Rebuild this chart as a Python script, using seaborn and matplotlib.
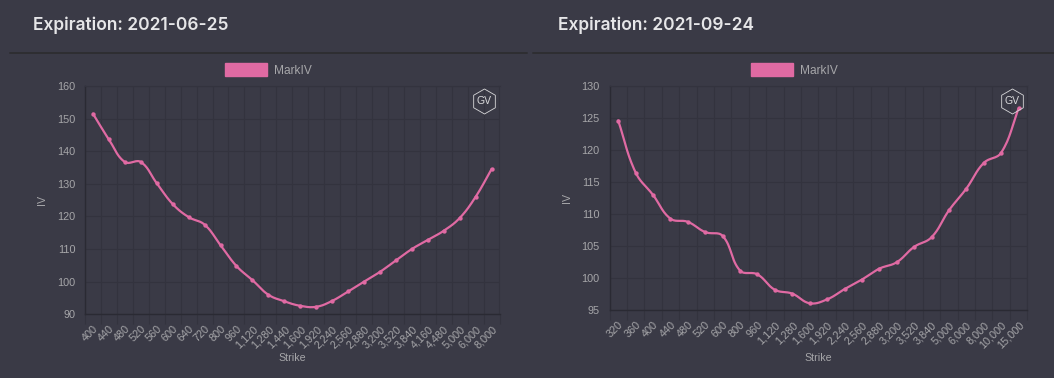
import numpy as np
import seaborn as sns
import matplotlib
matplotlib.use('Agg')
import matplotlib.pyplot as plt
from matplotlib.lines import Line2D
from matplotlib.patches import Patch

# data
strikes_jun = ['400', '440', '480', '520', '560', '600', '640', '720', '800', '960', '1,120', '1,280', '1,440',
               '1,600', '1,920', '2,240', '2,560', '2,880', '3,200', '3,520', '3,840', '4,160', '4,480',
               '5,000', '6,000', '8,000']
iv_jun = [151.5, 143.6, 136.7, 136.7, 130.2, 123.8, 119.8, 117.5, 111.2, 104.8, 100.5, 96.0, 94.0,
          92.6, 92.3, 94.1, 97.0, 100.0, 103.0, 106.5, 110.0, 112.8, 115.6, 119.5, 126.0, 134.5]
yticks_jun = [90, 100, 110, 120, 130, 140, 150, 160]

strikes_sep = ['320', '360', '400', '440', '480', '520', '600', '800', '960', '1,120', '1,280', '1,600', '1,920',
               '2,240', '2,560', '2,880', '3,200', '3,520', '3,840', '5,000', '6,000', '8,000', '10,000', '15,000']
iv_sep = [124.6, 116.5, 113.0, 109.3, 108.8, 107.2, 106.6, 101.2, 100.6, 98.2, 97.6, 96.1, 96.7,
          98.3, 99.8, 101.5, 102.5, 104.9, 106.4, 110.6, 114.0, 118.0, 119.6, 126.5]
yticks_sep = [95, 100, 105, 110, 115, 120, 125, 130]

BG = '#3a3a46'
PINK = '#e06aa3'
GRID = '#33333e'
AXIS = '#2a2a33'
TEXT = '#a6a6a9'
W, H = 1054, 378

sns.set_theme(style='dark', rc={'figure.facecolor': BG, 'axes.facecolor': BG})
plt.rcParams['font.family'] = ['Liberation Sans', 'DejaVu Sans']


def smooth(ax, x, y, tension=0.4, steps=16):
    # same bezier rule the original chart uses, worked out in pixel space
    pts = ax.transData.transform(np.column_stack([x, y]))
    out = [pts[0]]
    for i in range(len(pts) - 1):
        p0, p1, p2, p3 = pts[max(i - 1, 0)], pts[i], pts[i + 1], pts[min(i + 2, len(pts) - 1)]
        d01, d12, d23 = np.hypot(*(p1 - p0)), np.hypot(*(p2 - p1)), np.hypot(*(p3 - p2))
        c1 = p1 + tension * d12 / (d01 + d12) * (p2 - p0)
        c2 = p2 - tension * d12 / (d12 + d23) * (p3 - p1)
        for t in np.linspace(0, 1, steps + 1)[1:]:
            out.append((1 - t) ** 3 * p1 + 3 * (1 - t) ** 2 * t * c1 + 3 * (1 - t) * t ** 2 * c2 + t ** 3 * p2)
    return ax.transData.inverted().transform(np.array(out))


def panel(box, labels, values, yticks, title, title_x, rule, ylabel_x, logo_x):
    left, top, right, bottom = box
    ax = fig.add_axes([left / W, 1 - bottom / H, (right - left) / W, (bottom - top) / H])
    n = len(labels)
    ax.set_xlim(-0.5, n - 0.5)
    ax.set_ylim(yticks[0], yticks[-1])

    xs = np.arange(n)
    curve = smooth(ax, xs, values)
    sns.lineplot(x=curve[:, 0], y=curve[:, 1], ax=ax, color=PINK, linewidth=1.6, sort=False,
                 estimator=None, zorder=3, legend=False)
    sns.scatterplot(x=xs, y=values, ax=ax, color=PINK, s=10, linewidth=0, zorder=4, legend=False, clip_on=False)

    ax.set_xticks(xs)
    ax.set_xticklabels(labels, rotation=45, ha='right', va='top', rotation_mode='anchor', fontsize=7.8, color=TEXT)
    ax.set_xticks(np.arange(n + 1) - 0.5, minor=True)
    ax.set_yticks(yticks)
    ax.tick_params(axis='x', which='major', length=0, pad=7)
    ax.tick_params(axis='x', which='minor', length=7, width=0.8, color=GRID, bottom=True)
    ax.tick_params(axis='y', length=0, pad=7, labelsize=7.8, labelcolor=TEXT)
    ax.grid(True, which='minor', axis='x', color=GRID, linewidth=0.8)
    ax.grid(True, which='major', axis='y', color=GRID, linewidth=0.8)
    ax.grid(False, which='major', axis='x')
    ax.set_axisbelow(True)
    for s in ['top', 'right']:
        ax.spines[s].set_color(GRID)
        ax.spines[s].set_linewidth(0.8)
    for s in ['left', 'bottom']:
        ax.spines[s].set_color(AXIS)
        ax.spines[s].set_linewidth(1.0)

    ax.set_xlabel('')
    ax.set_ylabel('')
    fig.text((left + right) / 2 / W, 1 - 358 / H, 'Strike', color=TEXT, fontsize=7.7, ha='center', va='center')
    fig.text(ylabel_x / W, 1 - (top + bottom) / 2 / H, 'IV', color=TEXT, fontsize=7.7, rotation=90,
             ha='center', va='center')

    # legend swatch + label
    ax.legend(handles=[Patch(facecolor=PINK, edgecolor=PINK, label='MarkIV')], loc='center', frameon=False,
              bbox_to_anchor=(((left + right) / 2 - 24) / W, 1 - 70 / H), bbox_transform=fig.transFigure,
              handlelength=3.5, handleheight=1.2, handletextpad=0.55, fontsize=8.6, labelcolor=TEXT)

    # title and rule
    fig.text(title_x / W, 1 - 25.5 / H, title, color='#e6e6e8', fontsize=12.5, fontweight='semibold', family='Inter',
             ha='left', va='center')
    fig.add_artist(Line2D([rule[0] / W, rule[1] / W], [1 - 52.5 / H] * 2, color='#2e2e32', linewidth=1.4))

    # GV logo
    fig.add_artist(Line2D([logo_x / W], [1 - 101 / H], marker='h', markersize=18, markerfacecolor='none',
                          markeredgecolor='#d8d8da', markeredgewidth=0.6, linestyle='none'))
    fig.text(logo_x / W, 1 - 101 / H, 'GV', color='#d8d8da', fontsize=7.5, ha='center', va='center')
    return ax


fig = plt.figure(figsize=(W / 100, H / 100), dpi=100, facecolor=BG)
panel((85, 86, 499.5, 314.3), strikes_jun, iv_jun, yticks_jun, 'Expiration: 2021-06-25', 33, (10, 527), 42, 484)
panel((609.5, 86, 1027.3, 310.3), strikes_sep, iv_sep, yticks_sep, 'Expiration: 2021-09-24', 558, (533, 1054), 567, 1012)

plt.savefig('out.png', dpi=100, facecolor=BG)
